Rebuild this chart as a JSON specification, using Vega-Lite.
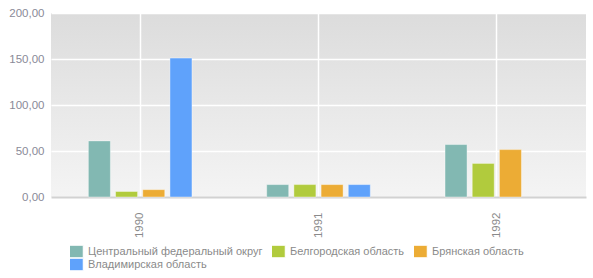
{
  "$schema": "https://vega.github.io/schema/vega-lite/v6.json",
  "width": 535,
  "height": 184,
  "autosize": {"type": "none"},
  "padding": {"left": 51, "top": 13, "right": 7, "bottom": 81},
  "background": "#ffffff",
  "config": {
    "font": "Liberation Sans",
    "view": {
      "stroke": null,
      "fill": {"gradient": "linear", "x1": 0, "y1": 0, "x2": 0, "y2": 1, "stops": [{"offset": 0, "color": "#dcdcdc"}, {"offset": 1, "color": "#f4f4f4"}]}
    }
  },
  "data": {
    "values": [
      {"year": "1990", "region": "Центральный федеральный округ", "value": 61},
      {"year": "1990", "region": "Белгородская область", "value": 6},
      {"year": "1990", "region": "Брянская область", "value": 8},
      {"year": "1990", "region": "Владимирская область", "value": 151},
      {"year": "1991", "region": "Центральный федеральный округ", "value": 13.5},
      {"year": "1991", "region": "Белгородская область", "value": 13.5},
      {"year": "1991", "region": "Брянская область", "value": 13.5},
      {"year": "1991", "region": "Владимирская область", "value": 13.5},
      {"year": "1992", "region": "Центральный федеральный округ", "value": 57},
      {"year": "1992", "region": "Белгородская область", "value": 36.5},
      {"year": "1992", "region": "Брянская область", "value": 51.5}
    ]
  },
  "mark": {"type": "bar", "stroke": "#ffffff", "strokeOpacity": 0.4, "strokeWidth": 1},
  "encoding": {
    "x": {
      "field": "year", "type": "nominal",
      "scale": {"paddingInner": 0.39, "paddingOuter": 0.195},
      "axis": {
        "title": null, "labelAngle": -90, "labelColor": "#8a8a8a", "labelFontSize": 11.5,
        "labelPadding": 15, "ticks": false, "grid": true, "gridColor": "#ffffff", "gridWidth": 1.5,
        "domainColor": "#d2d2d2", "domainWidth": 2
      }
    },
    "xOffset": {
      "field": "region", "type": "nominal",
      "sort": ["Центральный федеральный округ", "Белгородская область", "Брянская область", "Владимирская область"],
      "scale": {"paddingInner": 0.19, "paddingOuter": 0.095}
    },
    "y": {
      "field": "value", "type": "quantitative",
      "scale": {"domain": [0, 200], "nice": false},
      "axis": {
        "title": null, "values": [0, 50, 100, 150, 200], "labelExpr": "replace(format(datum.value, '.2f'), '.', ',')",
        "labelColor": "#8a8a98", "labelFontSize": 11.5, "labelPadding": 7, "ticks": false, "domain": false,
        "grid": true, "gridColor": "#ffffff", "gridWidth": 1.5
      }
    },
    "color": {
      "field": "region", "type": "nominal",
      "sort": ["Центральный федеральный округ", "Белгородская область", "Брянская область", "Владимирская область"],
      "scale": {"range": ["#82b8b2", "#b1cb3d", "#ecac35", "#5fa2fb"]},
      "legend": {
        "title": null, "orient": "none", "legendX": 19, "legendY": 232, "direction": "horizontal", "columns": 3,
        "gridAlign": "each", "columnPadding": 9, "rowPadding": 0, "clipHeight": 13,
        "symbolType": "M-1.55,-1.25H1.55V1.25H-1.55Z", "symbolSize": 100, "symbolStrokeColor": "#ffffff", "symbolStrokeWidth": 1,
        "symbolOpacity": 1, "labelColor": "#8a8a8a", "labelFontSize": 11, "labelOffset": 7, "labelLimit": 300
      }
    }
  }
}
